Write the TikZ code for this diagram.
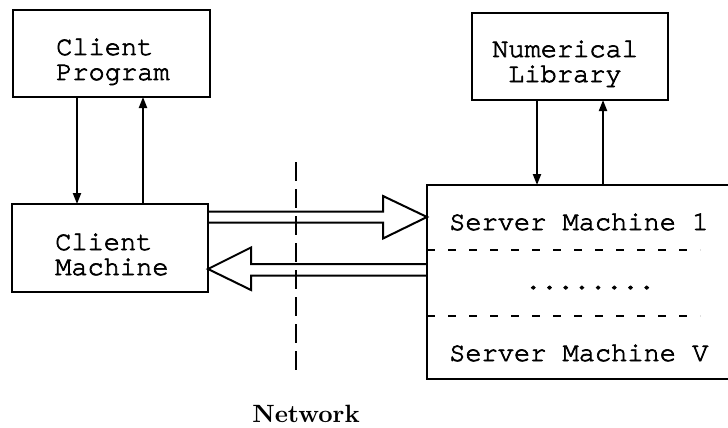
\documentclass[tikz,border=0pt]{standalone}
\usepackage{fontspec}
\newfontfamily\boxfont{TeX Gyre Cursor}[FakeBold=2.5]
\usetikzlibrary{arrows.meta,calc}
\begin{document}
\begin{tikzpicture}[x=1pt,y=-1pt,
  box/.style={draw,line width=2pt,inner sep=0pt,outer sep=0pt},
  lbl/.style={font=\fontsize{27}{25}\selectfont\boxfont,inner sep=0pt,anchor=base west},
  conn/.style={line width=2pt,-{Triangle[length=11pt,width=8pt]}},
  hollow/.style={line width=2pt,line join=miter},
  netline/.style={line width=2pt,dash pattern=on 19pt off 8pt},
  sepline/.style={line width=2pt,dash pattern=on 8pt off 13pt}]
\useasboundingbox (0,0) rectangle (728,428);

% boxes
\node[box,minimum width=197pt,minimum height=87pt] (cp) at (111.5,53.5) {};
\node[box,minimum width=196pt,minimum height=88pt] (cm) at (110,248) {};
\node[box,minimum width=196pt,minimum height=87pt] (nl) at (570,56.5) {};
\node[box,minimum width=313pt,minimum height=194pt] (sv) at (583.5,282) {};

% box texts
\node[lbl] (cpa) at (56,55) {Client};
\node[lbl] (cpb) at (56,80) {Program};
\node[lbl] (cma) at (55,250) {Client};
\node[lbl] (cmb) at (55,275) {Machine};
\node[lbl] (nla) at (492,57) {Numerical};
\node[lbl] (nlb) at (508,82) {Library};
\node[lbl] (s1) at (449,230) {Server Machine 1};
\node[lbl] (dots) at (525,289) {........};
\node[lbl] (sV) at (449,361) {Server Machine V};

% separators inside the server box
\draw[sepline] (sv.west |- 0,250) -- (700,250);
\draw[sepline] (sv.west |- 0,316) -- (700,316);

% calls between program and machine
\coordinate (xa) at (77,0);
\coordinate (xb) at (143,0);
\coordinate (xc) at (537,0);
\coordinate (xd) at (603,0);
\draw[conn] (cp.south -| xa) -- (cm.north -| xa);
\draw[conn] (cm.north -| xb) -- (cp.south -| xb);
\draw[conn] (nl.south -| xc) -- (sv.north -| xc);
\draw[conn] (sv.north -| xd) -- (nl.south -| xd);

% request and reply over the network
\draw[hollow] (cm.east |- 0,211.5) -- (383,211.5) -- (383,196) -- (sv.west |- 0,217)
  -- (383,238.5) -- (383,222.5) -- (cm.east |- 0,222.5);
\draw[hollow] (sv.west |- 0,264) -- (251,264) -- (251,247.5) -- (cm.east |- 0,269)
  -- (251,290) -- (251,275.5) -- (sv.west |- 0,275.5);

% network boundary
\draw[netline] (296,162) -- (296,373);
\node[inner sep=0pt,anchor=base] (net) at (306,422)
  {\scalebox{2.5}{\fontsize{10}{12}\selectfont\bfseries Network}};
\end{tikzpicture}
\end{document}
